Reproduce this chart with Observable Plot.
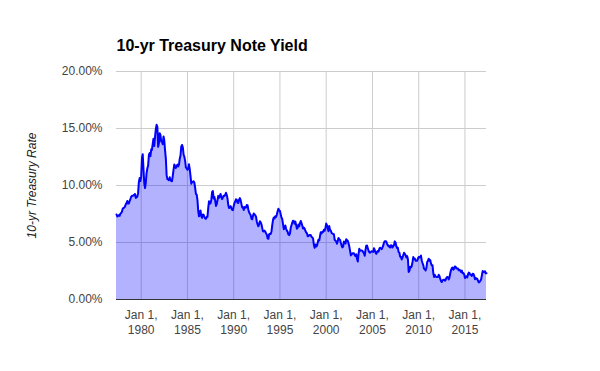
<!DOCTYPE html>
<html>
<head>
<meta charset="utf-8">
<script src="https://cdn.jsdelivr.net/npm/d3@7"></script>
<script src="https://cdn.jsdelivr.net/npm/@observablehq/plot@0.6"></script>
<style>
  html, body { margin: 0; padding: 0; background: #fff; }
  #chart { width: 600px; height: 371px; }
</style>
</head>
<body>
<div id="chart"></div>
<script>
const title = "10-yr Treasury Note Yield";
const yLabel = "10-yr Treasury Rate";
const years = [1977,1978,1979,1980,1981,1982,1983,1984,1985,1986,1987,1988,1989,1990,1991,1992,1993,1994,1995,1996,1997,1998,1999,2000,2001,2002,2003,2004,2005,2006,2007,2008,2009,2010,2011,2012,2013,2014,2015,2016,2017];
const firstMonth = 5; // series begins May 1977
// monthly 10-yr yields (%), one row per year
const yields = [
  [7.46,7.28,7.33,7.40,7.34,7.52,7.58,7.69],
  [7.96,8.03,8.04,8.15,8.35,8.46,8.64,8.41,8.42,8.64,8.81,9.01],
  [9.10,9.10,9.12,9.18,9.25,8.91,8.95,9.03,9.33,10.30,10.65,10.39],
  [10.80,12.41,12.75,11.47,10.18,9.78,10.25,11.10,11.51,11.75,12.68,12.84],
  [12.57,13.19,13.12,13.68,14.10,13.47,14.28,14.94,15.32,15.15,13.39,13.72],
  [14.59,14.43,13.86,13.87,13.62,14.30,13.95,13.06,12.34,10.91,10.55,10.54],
  [10.46,10.72,10.51,10.40,10.38,10.85,11.38,11.85,11.65,11.54,11.69,11.83],
  [11.67,11.84,12.32,12.63,13.41,13.56,13.36,12.72,12.52,12.16,11.57,11.50],
  [11.38,11.51,11.86,11.43,10.85,10.16,10.31,10.33,10.37,10.24,9.78,9.26],
  [9.19,8.70,7.78,7.30,7.71,7.80,7.30,7.17,7.45,7.43,7.25,7.11],
  [7.08,7.25,7.25,8.02,8.61,8.40,8.45,8.76,9.42,9.52,8.86,8.99],
  [8.67,8.21,8.37,8.72,9.09,8.92,9.06,9.26,8.98,8.80,8.96,9.11],
  [9.09,9.17,9.36,9.18,8.86,8.28,8.02,8.11,8.19,8.01,7.87,7.84],
  [8.21,8.47,8.59,8.79,8.76,8.48,8.47,8.75,8.89,8.72,8.39,8.08],
  [8.09,7.85,8.11,8.04,8.07,8.28,8.27,7.90,7.65,7.53,7.42,7.09],
  [7.03,7.34,7.54,7.48,7.39,7.26,6.84,6.59,6.42,6.59,6.87,6.77],
  [6.60,6.26,5.98,5.97,6.04,5.96,5.81,5.68,5.36,5.33,5.72,5.77],
  [5.75,5.97,6.48,6.97,7.18,7.10,7.30,7.24,7.46,7.74,7.96,7.81],
  [7.78,7.47,7.20,7.06,6.63,6.17,6.28,6.49,6.20,6.04,5.93,5.71],
  [5.65,5.81,6.27,6.51,6.74,6.91,6.87,6.64,6.83,6.53,6.20,6.30],
  [6.58,6.42,6.69,6.89,6.71,6.49,6.22,6.30,6.21,6.03,5.88,5.81],
  [5.54,5.57,5.65,5.64,5.65,5.50,5.46,5.34,4.81,4.53,4.83,4.65],
  [4.72,5.00,5.23,5.18,5.54,5.90,5.79,5.94,5.92,6.11,6.03,6.28],
  [6.66,6.52,6.26,5.99,6.44,6.10,6.05,5.83,5.80,5.74,5.72,5.24],
  [5.16,5.10,4.89,5.14,5.39,5.28,5.24,4.97,4.73,4.57,4.65,5.09],
  [5.04,4.91,5.28,5.21,5.16,4.93,4.65,4.26,3.87,3.94,4.05,4.03],
  [4.05,3.90,3.81,3.96,3.57,3.33,3.98,4.45,4.27,4.29,4.30,4.27],
  [4.15,4.08,3.83,4.35,4.72,4.73,4.50,4.28,4.13,4.10,4.19,4.23],
  [4.22,4.17,4.50,4.34,4.14,4.00,4.18,4.26,4.20,4.46,4.54,4.47],
  [4.42,4.57,4.72,4.99,5.11,5.11,5.09,4.88,4.72,4.73,4.60,4.56],
  [4.76,4.72,4.56,4.69,4.75,5.10,5.00,4.67,4.52,4.53,4.15,4.10],
  [3.74,3.74,3.51,3.68,3.88,4.10,4.01,3.89,3.69,3.81,3.53,2.42],
  [2.52,2.87,2.82,2.93,3.29,3.72,3.56,3.59,3.40,3.39,3.40,3.59],
  [3.73,3.69,3.73,3.85,3.42,3.20,3.01,2.70,2.65,2.54,2.76,3.29],
  [3.39,3.58,3.41,3.46,3.17,3.00,3.00,2.30,1.98,2.15,2.01,1.98],
  [1.97,1.97,2.17,2.05,1.80,1.62,1.53,1.68,1.72,1.75,1.65,1.72],
  [1.91,1.98,1.96,1.76,1.93,2.30,2.58,2.74,2.81,2.62,2.72,2.90],
  [2.86,2.71,2.72,2.71,2.56,2.60,2.54,2.42,2.53,2.30,2.33,2.21],
  [1.88,1.98,2.04,1.94,2.20,2.36,2.32,2.17,2.17,2.07,2.26,2.24],
  [2.09,1.78,1.89,1.81,1.81,1.64,1.50,1.56,1.63,1.76,2.14,2.49],
  [2.43,2.42,2.48,2.30,2.30]
];
const xTickYears = [1980,1985,1990,1995,2000,2005,2010,2015];
const yTicks = [0,5,10,15,20];

const data = [];
years.forEach((yr, i) => {
  const m0 = i === 0 ? firstMonth - 1 : 0;
  yields[i].forEach((v, j) => data.push({date: new Date(Date.UTC(yr, m0 + j, 1)), value: v}));
});
const xTicks = xTickYears.map(y => new Date(Date.UTC(y, 0, 1)));

const chart = Plot.plot({
  width: 600,
  height: 371,
  marginLeft: 116,
  marginRight: 114,
  marginTop: 71,
  marginBottom: 72,
  style: {fontFamily: "'Liberation Sans', Arial, sans-serif", fontSize: "12px", color: "#444", background: "#fff"},
  x: {type: "utc", domain: d3.extent(data, d => d.date)},
  y: {domain: [0, 20]},
  marks: [
    Plot.ruleY(yTicks.filter(d => d > 0), {stroke: "#cccccc", strokeOpacity: 1}),
    Plot.ruleX(xTicks, {stroke: "#cccccc", strokeOpacity: 1}),
    Plot.areaY(data, {x: "date", y: "value", fill: "#0000ff", fillOpacity: 0.3}),
    Plot.lineY(data, {x: "date", y: "value", stroke: "#0000ff", strokeWidth: 2}),
    Plot.ruleY([0], {stroke: "#333333", strokeWidth: 1}),
    Plot.axisY({ticks: yTicks, tickFormat: d => d.toFixed(2) + "%", tickSize: 0, tickPadding: 14, label: null, fill: "#444"}),
    Plot.axisX({ticks: xTicks, tickFormat: d => "Jan 1,\n" + d.getUTCFullYear(), tickSize: 0, tickPadding: 8, label: null, lineHeight: 1.3, fill: "#444"}),
    Plot.text([title], {frameAnchor: "top-left", textAnchor: "start", lineAnchor: "bottom", dy: -21, fontWeight: "bold", fontSize: 16, fill: "#000"}),
    Plot.text([yLabel], {frameAnchor: "left", textAnchor: "middle", dx: -84, rotate: -90, fontStyle: "italic", fontSize: 12, fill: "#222"})
  ]
});
document.getElementById("chart").appendChild(chart);
</script>
</body>
</html>
